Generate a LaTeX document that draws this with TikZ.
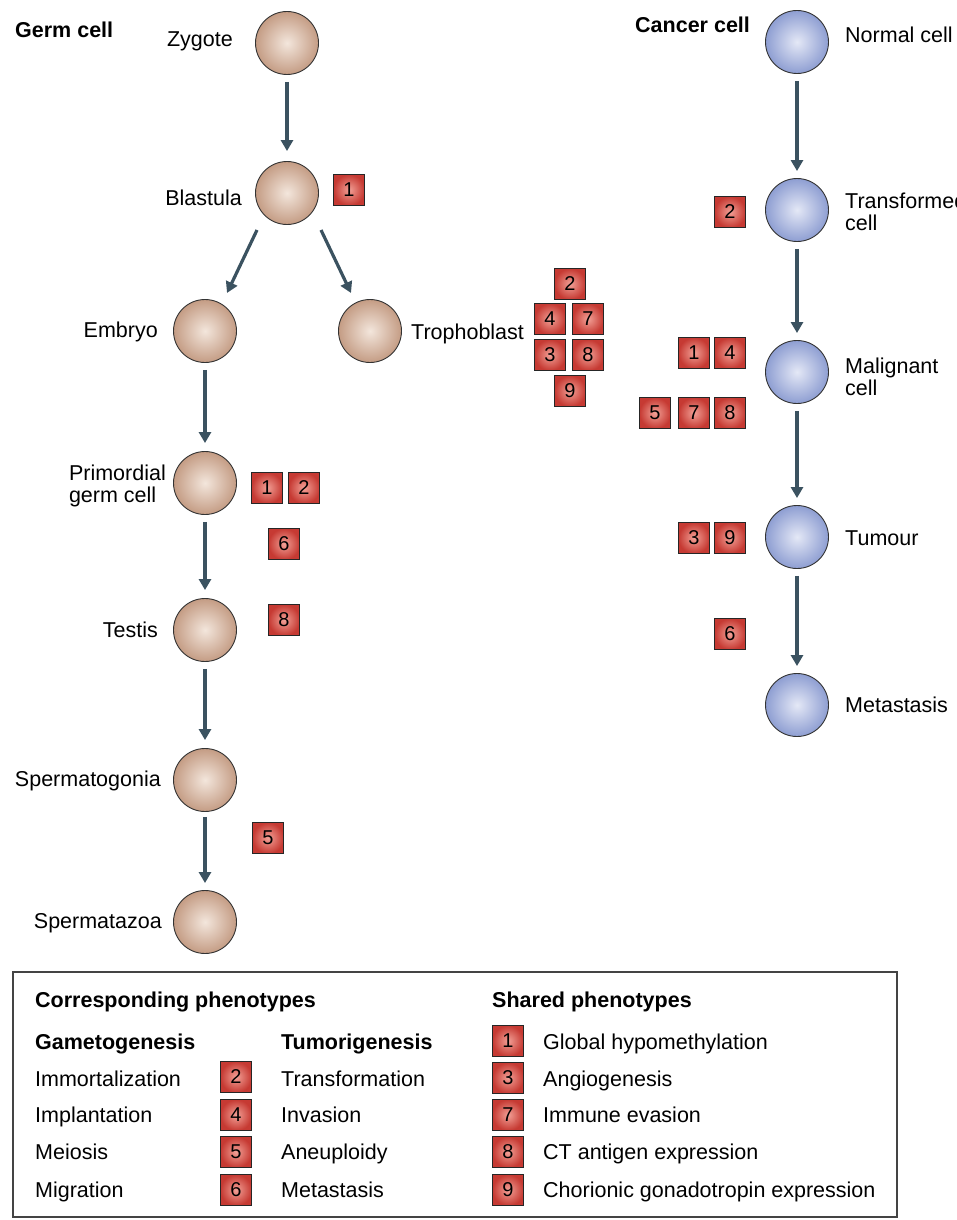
\documentclass[tikz,border=0pt]{standalone}
\usepackage{fontspec}
\setmainfont{Liberation Sans}
\usetikzlibrary{arrows.meta,calc}
\definecolor{arrowc}{HTML}{3B5260}
\definecolor{tanin}{HTML}{F3E6DC}
\definecolor{tanout}{HTML}{C49C84}
\definecolor{bluein}{HTML}{E4E8F6}
\definecolor{blueout}{HTML}{8E9ED2}
\definecolor{redin}{HTML}{F2A096}
\definecolor{redout}{HTML}{C63A33}
\definecolor{framec}{HTML}{444444}
\begin{document}
\begin{tikzpicture}[x=1pt,y=-1pt,
  every node/.style={font=\fontsize{21.5}{24}\selectfont},
  germ/.style={circle,draw=black!80,line width=0.9pt,minimum size=63pt,inner sep=0pt,inner color=tanin,outer color=tanout},
  canc/.style={circle,draw=black!80,line width=0.9pt,minimum size=63pt,inner sep=0pt,inner color=bluein,outer color=blueout},
  pbox/.style={rectangle,draw=black!85,line width=1pt,minimum size=31pt,inner sep=0pt,inner color=redin,outer color=redout,font=\fontsize{20}{24}\selectfont},
  lbl/.style={inner sep=0pt,text height=15pt,text depth=4pt},
  lbl2/.style={inner sep=0pt,align=left,font=\fontsize{21.5}{22}\selectfont},
  head/.style={lbl,font=\fontsize{21.5}{24}\selectfont\bfseries},
  arr/.style={draw=arrowc,line width=3.2pt,-{Triangle[width=12pt,length=11pt]}},
]
\useasboundingbox (0,0) rectangle (956,1220);

% ---------------- Germ cell column
\node[head,anchor=west] (germT) at (15,32) {Germ cell};
\node[germ] (zygote) at (287,43) {};
\node[germ] (blastula) at (287,193) {};
\node[germ] (embryo) at (205,331) {};
\node[germ] (tropho) at (370,331) {};
\node[germ] (primordial) at (205,483) {};
\node[germ] (testis) at (205,630) {};
\node[germ] (spermatogonia) at (205,780) {};
\node[germ] (spermatazoa) at (205,922) {};

\node[lbl,anchor=east] (zygoteL) at (233,41) {Zygote};
\node[lbl,anchor=east] (blastulaL) at (242,200) {Blastula};
\node[lbl,anchor=east] (embryoL) at (158,332) {Embryo};
\node[lbl,anchor=west] (trophoL) at (411,334) {Trophoblast};
\node[lbl2,anchor=east] (primordialL) at (166,486) {Primordial\\germ cell};
\node[lbl,anchor=east] (testisL) at (158,632) {Testis};
\node[lbl,anchor=east] (spermatogoniaL) at (161,781) {Spermatogonia};
\node[lbl,anchor=east] (spermatazoaL) at (162,923) {Spermatazoa};

\draw[arr,shorten <=7pt,shorten >=10pt] (zygote) -- (blastula);
\draw[arr] ($(blastula)+(-30,37)$) -- ($(embryo)+(22,-38)$);
\draw[arr] ($(blastula)+(34,37)$) -- ($(tropho)+(-19,-38)$);
\draw[arr,shorten <=7pt,shorten >=8pt] (embryo) -- (primordial);
\draw[arr,shorten <=7pt,shorten >=8pt] (primordial) -- (testis);
\draw[arr,shorten <=7pt,shorten >=8pt] (testis) -- (spermatogonia);
\draw[arr,shorten <=5pt,shorten >=7pt] (spermatogonia) -- (spermatazoa);

\node[pbox] (gb1) at (349,190) {1};
\node[pbox] (tb2) at (570,284) {2};
\node[pbox] (tb4) at (550,319) {4};
\node[pbox] (tb7) at (588,319) {7};
\node[pbox] (tb3) at (550,355) {3};
\node[pbox] (tb8) at (588,355) {8};
\node[pbox] (tb9) at (570,391) {9};
\node[pbox] (pb1) at (267,488) {1};
\node[pbox] (pb2) at (304,488) {2};
\node[pbox] (pb6) at (284,544) {6};
\node[pbox] (pb8) at (284,620) {8};
\node[pbox] (sb5) at (268,838) {5};

% ---------------- Cancer cell column
\node[head,anchor=west] (cancerT) at (635,27) {Cancer cell};
\node[canc] (normal) at (797,42) {};
\node[canc] (transformed) at (797,210) {};
\node[canc] (malignant) at (797,372) {};
\node[canc] (tumour) at (797,537) {};
\node[canc] (metastasis) at (797,705) {};

\node[lbl,anchor=west] (normalL) at (845,37) {Normal cell};
\node[lbl2,anchor=west] (transformedL) at (845,212) {Transformed\\cell};
\node[lbl2,anchor=west] (malignantL) at (845,377) {Malignant\\cell};
\node[lbl,anchor=west] (tumourL) at (845,540) {Tumour};
\node[lbl,anchor=west] (metastasisL) at (845,707) {Metastasis};

\draw[arr,shorten <=7pt,shorten >=7pt] (normal) -- (transformed);
\draw[arr,shorten <=7pt,shorten >=7pt] (transformed) -- (malignant);
\draw[arr,shorten <=7pt,shorten >=7pt] (malignant) -- (tumour);
\draw[arr,shorten <=7pt,shorten >=7pt] (tumour) -- (metastasis);

\node[pbox] (cb2) at (730,212) {2};
\node[pbox] (cb1) at (694,353) {1};
\node[pbox] (cb4) at (730,353) {4};
\node[pbox] (cb5) at (655,413) {5};
\node[pbox] (cb7) at (694,413) {7};
\node[pbox] (cb8) at (730,413) {8};
\node[pbox] (cb3) at (694,538) {3};
\node[pbox] (cb9) at (730,538) {9};
\node[pbox] (cb6) at (730,634) {6};

% ---------------- Legend
\node[draw=framec,line width=1.6pt,minimum width=884pt,minimum height=245pt,inner sep=0pt] (legend) at (455,1094.5) {};

\node[head,anchor=west] (corrH) at (35,1002) {Corresponding phenotypes};
\node[head,anchor=west] (sharedH) at (492,1002) {Shared phenotypes};
\node[head,anchor=west] (gameH) at (35,1044) {Gametogenesis};
\node[head,anchor=west] (tumoH) at (281,1044) {Tumorigenesis};

\node[lbl,anchor=west] (g1) at (35,1081) {Immortalization};
\node[lbl,anchor=west] (g2) at (35,1117) {Implantation};
\node[lbl,anchor=west] (g3) at (35,1154) {Meiosis};
\node[lbl,anchor=west] (g4) at (35,1192) {Migration};

\node[pbox] (lb2) at (236,1077) {2};
\node[pbox] (lb4) at (236,1115) {4};
\node[pbox] (lb5) at (236,1152) {5};
\node[pbox] (lb6) at (236,1190) {6};

\node[lbl,anchor=west] (t1) at (281,1081) {Transformation};
\node[lbl,anchor=west] (t2) at (281,1117) {Invasion};
\node[lbl,anchor=west] (t3) at (281,1154) {Aneuploidy};
\node[lbl,anchor=west] (t4) at (281,1192) {Metastasis};

\node[pbox] (ls1) at (508,1041) {1};
\node[pbox] (ls3) at (508,1078) {3};
\node[pbox] (ls7) at (508,1115) {7};
\node[pbox] (ls8) at (508,1152) {8};
\node[pbox] (ls9) at (508,1190) {9};

\node[lbl,anchor=west] (s1) at (543,1044) {Global hypomethylation};
\node[lbl,anchor=west] (s3) at (543,1081) {Angiogenesis};
\node[lbl,anchor=west] (s7) at (543,1117) {Immune evasion};
\node[lbl,anchor=west] (s8) at (543,1154) {CT antigen expression};
\node[lbl,anchor=west] (s9) at (543,1192) {Chorionic gonadotropin expression};
\end{tikzpicture}
\end{document}
